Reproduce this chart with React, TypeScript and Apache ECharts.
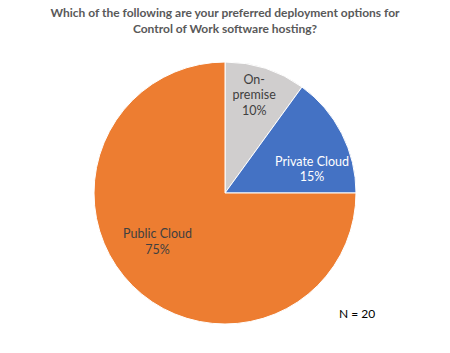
import React, { useEffect, useRef } from "react";
import * as echarts from "echarts";

const categories = ["On-\npremise", "Private Cloud", "Public Cloud"];
const values = [10, 15, 75];
const colors = ["#D0CECE", "#4472C4", "#ED7D31"];
const labelColors = ["#404040", "#FFFFFF", "#404040"];
const labelShift = [
  [8, -33],
  [26, 7],
  [-19, 0],
];
const titleText =
  "Which of the following are your preferred deployment options for\nControl of Work software hosting?";
const noteText = "N = 20";

export default function App() {
  const ref = useRef<HTMLDivElement>(null);
  useEffect(() => {
    if (!ref.current) return;
    const chart = echarts.init(ref.current, undefined, { renderer: "svg" });
    const font = "Lato, 'Open Sans', sans-serif";
    chart.setOption({
      animation: false,
      backgroundColor: "#FFFFFF",
      title: {
        text: titleText,
        left: "center",
        top: -1,
        textStyle: {
          fontFamily: font,
          fontWeight: "bold",
          fontSize: 12,
          lineHeight: 16,
          color: "#595959",
        },
      },
      graphic: [
        {
          type: "text",
          left: 339,
          top: 307,
          style: {
            text: noteText,
            font: `12px ${font}`,
            fill: "#000000",
          },
        },
      ],
      series: [
        {
          type: "pie",
          center: [225, 193],
          radius: [0, 131],
          startAngle: 90,
          clockwise: true,
          avoidLabelOverlap: false,
          itemStyle: { borderColor: "#FFFFFF", borderWidth: 1 },
          label: {
            show: true,
            position: "inside",
            fontFamily: font,
            fontSize: 12.5,
            lineHeight: 15.5,
            formatter: (p: any) => `${p.name}\n${p.value}%`,
          },
          labelLine: { show: false },
          emphasis: { disabled: true },
          labelLayout: (p: any) => ({
            dx: labelShift[p.dataIndex][0],
            dy: labelShift[p.dataIndex][1],
          }),
          data: categories.map((name, i) => ({
            name,
            value: values[i],
            itemStyle: { color: colors[i] },
            label: { color: labelColors[i] },
          })),
        },
      ],
    });
    return () => chart.dispose();
  }, []);
  return (
    <div
      ref={ref}
      style={{ position: "fixed", left: 0, top: 0, width: 450, height: 353 }}
    />
  );
}
